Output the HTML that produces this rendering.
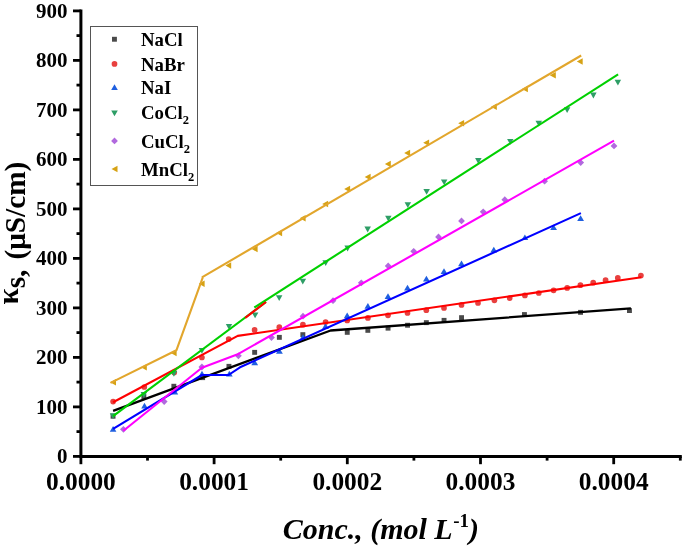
<!DOCTYPE html>
<html><head><meta charset="utf-8"><style>
html,body{margin:0;padding:0;background:#fff;}
body{width:685px;height:548px;overflow:hidden;}
svg{display:block;will-change:transform;}
text{font-family:"Liberation Serif",serif;font-weight:bold;fill:#000;}
.yt{font-size:21px;text-anchor:end;}
.xt{font-size:25.4px;text-anchor:middle;}
.lg{font-size:18.8px;}
.axl{}
</style></head><body>
<svg width="685" height="548" viewBox="0 0 685 548">
<rect width="685" height="548" fill="#fff"/>
<line x1="80.9" y1="9.6" x2="80.9" y2="458.0" stroke="#000" stroke-width="3"/>
<line x1="79.4" y1="456.5" x2="681.8" y2="456.5" stroke="#000" stroke-width="3"/>
<line x1="73" y1="456.4" x2="80.9" y2="456.4" stroke="#000" stroke-width="2.8"/>
<line x1="76.5" y1="431.6" x2="80.9" y2="431.6" stroke="#000" stroke-width="2.8"/>
<text x="67.6" y="463.0" class="yt">0</text>
<line x1="73" y1="406.9" x2="80.9" y2="406.9" stroke="#000" stroke-width="2.8"/>
<line x1="76.5" y1="382.1" x2="80.9" y2="382.1" stroke="#000" stroke-width="2.8"/>
<text x="67.6" y="413.5" class="yt">100</text>
<line x1="73" y1="357.4" x2="80.9" y2="357.4" stroke="#000" stroke-width="2.8"/>
<line x1="76.5" y1="332.6" x2="80.9" y2="332.6" stroke="#000" stroke-width="2.8"/>
<text x="67.6" y="364.0" class="yt">200</text>
<line x1="73" y1="307.9" x2="80.9" y2="307.9" stroke="#000" stroke-width="2.8"/>
<line x1="76.5" y1="283.1" x2="80.9" y2="283.1" stroke="#000" stroke-width="2.8"/>
<text x="67.6" y="314.5" class="yt">300</text>
<line x1="73" y1="258.4" x2="80.9" y2="258.4" stroke="#000" stroke-width="2.8"/>
<line x1="76.5" y1="233.6" x2="80.9" y2="233.6" stroke="#000" stroke-width="2.8"/>
<text x="67.6" y="265.0" class="yt">400</text>
<line x1="73" y1="208.9" x2="80.9" y2="208.9" stroke="#000" stroke-width="2.8"/>
<line x1="76.5" y1="184.1" x2="80.9" y2="184.1" stroke="#000" stroke-width="2.8"/>
<text x="67.6" y="215.5" class="yt">500</text>
<line x1="73" y1="159.4" x2="80.9" y2="159.4" stroke="#000" stroke-width="2.8"/>
<line x1="76.5" y1="134.6" x2="80.9" y2="134.6" stroke="#000" stroke-width="2.8"/>
<text x="67.6" y="166.0" class="yt">600</text>
<line x1="73" y1="109.9" x2="80.9" y2="109.9" stroke="#000" stroke-width="2.8"/>
<line x1="76.5" y1="85.1" x2="80.9" y2="85.1" stroke="#000" stroke-width="2.8"/>
<text x="67.6" y="116.5" class="yt">700</text>
<line x1="73" y1="60.4" x2="80.9" y2="60.4" stroke="#000" stroke-width="2.8"/>
<line x1="76.5" y1="35.6" x2="80.9" y2="35.6" stroke="#000" stroke-width="2.8"/>
<text x="67.6" y="67.0" class="yt">800</text>
<line x1="73" y1="10.9" x2="80.9" y2="10.9" stroke="#000" stroke-width="2.8"/>
<text x="67.6" y="17.5" class="yt">900</text>
<line x1="80.9" y1="456.5" x2="80.9" y2="464.2" stroke="#000" stroke-width="2.8"/>
<line x1="147.5" y1="456.5" x2="147.5" y2="460.6" stroke="#000" stroke-width="2.8"/>
<text x="80.9" y="489.6" class="xt">0.0000</text>
<line x1="214.1" y1="456.5" x2="214.1" y2="464.2" stroke="#000" stroke-width="2.8"/>
<line x1="280.7" y1="456.5" x2="280.7" y2="460.6" stroke="#000" stroke-width="2.8"/>
<text x="214.1" y="489.6" class="xt">0.0001</text>
<line x1="347.3" y1="456.5" x2="347.3" y2="464.2" stroke="#000" stroke-width="2.8"/>
<line x1="413.9" y1="456.5" x2="413.9" y2="460.6" stroke="#000" stroke-width="2.8"/>
<text x="347.3" y="489.6" class="xt">0.0002</text>
<line x1="480.5" y1="456.5" x2="480.5" y2="464.2" stroke="#000" stroke-width="2.8"/>
<line x1="547.1" y1="456.5" x2="547.1" y2="460.6" stroke="#000" stroke-width="2.8"/>
<text x="480.5" y="489.6" class="xt">0.0003</text>
<line x1="613.7" y1="456.5" x2="613.7" y2="464.2" stroke="#000" stroke-width="2.8"/>
<line x1="680.3" y1="456.5" x2="680.3" y2="460.6" stroke="#000" stroke-width="2.8"/>
<text x="613.7" y="489.6" class="xt">0.0004</text>
<rect x="110.6" y="413.8" width="4.9" height="4.9" fill="#4a4a4a"/>
<rect x="141.4" y="394.1" width="4.9" height="4.9" fill="#4a4a4a"/>
<rect x="171.4" y="383.8" width="4.9" height="4.9" fill="#4a4a4a"/>
<rect x="200.2" y="375.2" width="4.9" height="4.9" fill="#4a4a4a"/>
<rect x="226.5" y="363.9" width="4.9" height="4.9" fill="#4a4a4a"/>
<rect x="252.2" y="349.9" width="4.9" height="4.9" fill="#4a4a4a"/>
<rect x="276.9" y="334.9" width="4.9" height="4.9" fill="#4a4a4a"/>
<rect x="300.4" y="332.2" width="4.9" height="4.9" fill="#4a4a4a"/>
<rect x="344.8" y="329.9" width="4.9" height="4.9" fill="#4a4a4a"/>
<rect x="365.4" y="327.9" width="4.9" height="4.9" fill="#4a4a4a"/>
<rect x="385.6" y="325.7" width="4.9" height="4.9" fill="#4a4a4a"/>
<rect x="405.1" y="322.8" width="4.9" height="4.9" fill="#4a4a4a"/>
<rect x="423.9" y="320.2" width="4.9" height="4.9" fill="#4a4a4a"/>
<rect x="441.6" y="317.9" width="4.9" height="4.9" fill="#4a4a4a"/>
<rect x="459.1" y="315.2" width="4.9" height="4.9" fill="#4a4a4a"/>
<rect x="522.0" y="312.1" width="4.9" height="4.9" fill="#4a4a4a"/>
<rect x="578.1" y="309.9" width="4.9" height="4.9" fill="#4a4a4a"/>
<rect x="627.0" y="308.1" width="4.9" height="4.9" fill="#4a4a4a"/>
<circle cx="113.1" cy="401.6" r="2.85" fill="#e8403f"/>
<circle cx="144.3" cy="387.0" r="2.85" fill="#e8403f"/>
<circle cx="174.2" cy="372.4" r="2.85" fill="#e8403f"/>
<circle cx="201.9" cy="357.5" r="2.85" fill="#e8403f"/>
<circle cx="228.7" cy="339.1" r="2.85" fill="#e8403f"/>
<circle cx="254.6" cy="329.9" r="2.85" fill="#e8403f"/>
<circle cx="279.3" cy="327.2" r="2.85" fill="#e8403f"/>
<circle cx="302.9" cy="324.7" r="2.85" fill="#e8403f"/>
<circle cx="325.6" cy="322.1" r="2.85" fill="#e8403f"/>
<circle cx="347.2" cy="320.4" r="2.85" fill="#e8403f"/>
<circle cx="367.9" cy="317.9" r="2.85" fill="#e8403f"/>
<circle cx="388.0" cy="315.3" r="2.85" fill="#e8403f"/>
<circle cx="407.5" cy="313.0" r="2.85" fill="#e8403f"/>
<circle cx="426.3" cy="310.2" r="2.85" fill="#e8403f"/>
<circle cx="444.0" cy="308.0" r="2.85" fill="#e8403f"/>
<circle cx="461.5" cy="304.9" r="2.85" fill="#e8403f"/>
<circle cx="478.0" cy="303.0" r="2.85" fill="#e8403f"/>
<circle cx="494.4" cy="300.3" r="2.85" fill="#e8403f"/>
<circle cx="509.7" cy="298.1" r="2.85" fill="#e8403f"/>
<circle cx="524.9" cy="295.4" r="2.85" fill="#e8403f"/>
<circle cx="538.8" cy="293.0" r="2.85" fill="#e8403f"/>
<circle cx="553.6" cy="290.3" r="2.85" fill="#e8403f"/>
<circle cx="567.2" cy="287.9" r="2.85" fill="#e8403f"/>
<circle cx="580.4" cy="285.2" r="2.85" fill="#e8403f"/>
<circle cx="593.2" cy="282.7" r="2.85" fill="#e8403f"/>
<circle cx="605.6" cy="280.2" r="2.85" fill="#e8403f"/>
<circle cx="617.8" cy="277.9" r="2.85" fill="#e8403f"/>
<circle cx="640.9" cy="275.5" r="2.85" fill="#e8403f"/>
<polygon points="109.8,431.8 116.4,431.8 113.1,426.1" fill="#1f5fe0"/>
<polygon points="141.2,408.5 147.8,408.5 144.5,402.8" fill="#1f5fe0"/>
<polygon points="171.5,394.5 178.2,394.5 174.8,388.8" fill="#1f5fe0"/>
<polygon points="198.7,376.5 205.3,376.5 202.0,370.8" fill="#1f5fe0"/>
<polygon points="226.0,376.5 232.7,376.5 229.3,370.8" fill="#1f5fe0"/>
<polygon points="251.3,365.2 258.1,365.2 254.7,359.4" fill="#1f5fe0"/>
<polygon points="276.0,353.7 282.8,353.7 279.4,347.9" fill="#1f5fe0"/>
<polygon points="299.6,340.0 306.4,340.0 303.0,334.2" fill="#1f5fe0"/>
<polygon points="322.1,328.9 328.9,328.9 325.5,323.1" fill="#1f5fe0"/>
<polygon points="343.8,318.3 350.6,318.3 347.2,312.6" fill="#1f5fe0"/>
<polygon points="364.5,308.7 371.2,308.7 367.9,302.9" fill="#1f5fe0"/>
<polygon points="384.6,299.0 391.4,299.0 388.0,293.2" fill="#1f5fe0"/>
<polygon points="404.1,290.5 410.9,290.5 407.5,284.8" fill="#1f5fe0"/>
<polygon points="423.0,281.5 429.8,281.5 426.4,275.8" fill="#1f5fe0"/>
<polygon points="440.6,274.0 447.4,274.0 444.0,268.2" fill="#1f5fe0"/>
<polygon points="458.1,266.3 464.9,266.3 461.5,260.6" fill="#1f5fe0"/>
<polygon points="490.4,252.5 497.2,252.5 493.8,246.8" fill="#1f5fe0"/>
<polygon points="521.5,240.1 528.2,240.1 524.9,234.4" fill="#1f5fe0"/>
<polygon points="550.2,230.1 557.0,230.1 553.6,224.4" fill="#1f5fe0"/>
<polygon points="577.2,221.0 584.0,221.0 580.6,215.3" fill="#1f5fe0"/>
<polygon points="109.8,413.3 116.3,413.3 113.1,419.1" fill="#2e9e66"/>
<polygon points="140.6,392.1 147.1,392.1 143.8,397.9" fill="#2e9e66"/>
<polygon points="170.7,370.9 177.2,370.9 173.9,376.7" fill="#2e9e66"/>
<polygon points="198.7,348.0 205.2,348.0 201.9,353.8" fill="#2e9e66"/>
<polygon points="225.8,324.0 232.2,324.0 229.0,329.8" fill="#2e9e66"/>
<polygon points="251.8,312.5 258.4,312.5 255.1,318.3" fill="#2e9e66"/>
<polygon points="275.9,295.3 282.4,295.3 279.2,301.1" fill="#2e9e66"/>
<polygon points="299.6,278.7 306.1,278.7 302.8,284.5" fill="#2e9e66"/>
<polygon points="322.4,260.3 328.9,260.3 325.7,266.1" fill="#2e9e66"/>
<polygon points="344.4,245.6 350.9,245.6 347.6,251.4" fill="#2e9e66"/>
<polygon points="364.4,226.6 370.9,226.6 367.7,232.4" fill="#2e9e66"/>
<polygon points="385.1,215.8 391.6,215.8 388.3,221.6" fill="#2e9e66"/>
<polygon points="404.6,202.3 411.1,202.3 407.8,208.1" fill="#2e9e66"/>
<polygon points="423.4,188.9 429.9,188.9 426.6,194.7" fill="#2e9e66"/>
<polygon points="440.9,179.4 447.4,179.4 444.2,185.2" fill="#2e9e66"/>
<polygon points="475.1,158.1 481.6,158.1 478.3,163.9" fill="#2e9e66"/>
<polygon points="507.1,138.9 513.5,138.9 510.3,144.7" fill="#2e9e66"/>
<polygon points="535.5,120.7 542.0,120.7 538.8,126.5" fill="#2e9e66"/>
<polygon points="563.9,107.2 570.4,107.2 567.1,113.0" fill="#2e9e66"/>
<polygon points="590.1,92.6 596.6,92.6 593.4,98.4" fill="#2e9e66"/>
<polygon points="614.6,79.8 621.1,79.8 617.9,85.6" fill="#2e9e66"/>
<polygon points="123.4,425.9 126.8,429.3 123.4,432.7 120.0,429.3" fill="#b169de"/>
<polygon points="164.2,398.2 167.6,401.6 164.2,405.0 160.8,401.6" fill="#b169de"/>
<polygon points="201.9,363.6 205.3,367.0 201.9,370.4 198.5,367.0" fill="#b169de"/>
<polygon points="238.4,352.4 241.8,355.8 238.4,359.2 235.0,355.8" fill="#b169de"/>
<polygon points="271.5,334.2 274.9,337.6 271.5,341.0 268.1,337.6" fill="#b169de"/>
<polygon points="303.0,312.8 306.4,316.2 303.0,319.6 299.6,316.2" fill="#b169de"/>
<polygon points="333.0,297.3 336.4,300.7 333.0,304.1 329.6,300.7" fill="#b169de"/>
<polygon points="361.3,279.4 364.7,282.8 361.3,286.2 357.9,282.8" fill="#b169de"/>
<polygon points="388.2,262.5 391.6,265.9 388.2,269.3 384.8,265.9" fill="#b169de"/>
<polygon points="413.7,247.9 417.1,251.3 413.7,254.7 410.3,251.3" fill="#b169de"/>
<polygon points="438.5,233.5 441.9,236.9 438.5,240.3 435.1,236.9" fill="#b169de"/>
<polygon points="461.5,217.5 464.9,220.9 461.5,224.3 458.1,220.9" fill="#b169de"/>
<polygon points="483.2,208.4 486.6,211.8 483.2,215.2 479.8,211.8" fill="#b169de"/>
<polygon points="504.8,196.3 508.2,199.7 504.8,203.1 501.4,199.7" fill="#b169de"/>
<polygon points="544.6,177.8 548.0,181.2 544.6,184.6 541.2,181.2" fill="#b169de"/>
<polygon points="580.7,159.2 584.1,162.6 580.7,166.0 577.3,162.6" fill="#b169de"/>
<polygon points="614.0,142.5 617.4,145.9 614.0,149.3 610.6,145.9" fill="#b169de"/>
<polygon points="116.0,378.9 116.0,385.4 110.1,382.2" fill="#d6a214"/>
<polygon points="146.8,364.1 146.8,370.6 140.9,367.3" fill="#d6a214"/>
<polygon points="176.6,349.8 176.6,356.2 170.8,353.0" fill="#d6a214"/>
<polygon points="204.6,280.6 204.6,287.1 198.8,283.8" fill="#d6a214"/>
<polygon points="231.2,262.2 231.2,268.8 225.4,265.5" fill="#d6a214"/>
<polygon points="257.6,245.8 257.6,252.3 251.7,249.1" fill="#d6a214"/>
<polygon points="282.1,229.8 282.1,236.2 276.2,233.0" fill="#d6a214"/>
<polygon points="305.6,214.9 305.6,221.4 299.7,218.2" fill="#d6a214"/>
<polygon points="328.1,200.8 328.1,207.2 322.2,204.0" fill="#d6a214"/>
<polygon points="350.1,185.8 350.1,192.2 344.2,189.0" fill="#d6a214"/>
<polygon points="370.6,173.8 370.6,180.2 364.7,177.0" fill="#d6a214"/>
<polygon points="390.8,160.8 390.8,167.3 384.9,164.1" fill="#d6a214"/>
<polygon points="410.1,149.7 410.1,156.2 404.2,152.9" fill="#d6a214"/>
<polygon points="429.1,139.4 429.1,145.9 423.2,142.7" fill="#d6a214"/>
<polygon points="464.1,120.0 464.1,126.5 458.2,123.2" fill="#d6a214"/>
<polygon points="496.8,103.5 496.8,110.0 490.9,106.7" fill="#d6a214"/>
<polygon points="527.9,85.8 527.9,92.3 521.9,89.1" fill="#d6a214"/>
<polygon points="555.8,72.0 555.8,78.5 549.8,75.3" fill="#d6a214"/>
<polygon points="582.7,58.2 582.7,64.8 576.8,61.5" fill="#d6a214"/>
<polyline points="113.1,410.8 330.6,330.5 630.9,308.4" fill="none" stroke="#000000" stroke-width="2.3" stroke-linejoin="round" stroke-linecap="butt"/>
<polyline points="113.1,402.3 237.7,335.9 641.4,277.2" fill="none" stroke="#ff0000" stroke-width="2.1" stroke-linejoin="round" stroke-linecap="butt"/>
<polyline points="113.1,428.8 202.0,375.0 228.5,375.0 240.0,367.3 580.9,213.1" fill="none" stroke="#0000ff" stroke-width="2.1" stroke-linejoin="round" stroke-linecap="butt"/>
<polyline points="113.1,416.2 266.0,302.0" fill="none" stroke="#00d000" stroke-width="2.1" stroke-linejoin="round" stroke-linecap="butt"/>
<polyline points="254.3,307.5 618.1,74.3" fill="none" stroke="#00d000" stroke-width="2.1" stroke-linejoin="round" stroke-linecap="butt"/>
<polyline points="245.2,317.9 266.0,302.0" fill="none" stroke="#ff0000" stroke-width="2.1" stroke-linejoin="round" stroke-linecap="butt"/>
<polyline points="123.4,430.8 201.9,367.7 238.4,353.9 614.0,140.7" fill="none" stroke="#ff00ff" stroke-width="2.1" stroke-linejoin="round" stroke-linecap="butt"/>
<polyline points="110.5,382.9 176.4,350.3 202.8,277.4" fill="none" stroke="#e2a62c" stroke-width="2.1" stroke-linejoin="round" stroke-linecap="butt"/>
<polyline points="201.9,277.4 581.2,55.5" fill="none" stroke="#e2a62c" stroke-width="2.1" stroke-linejoin="round" stroke-linecap="butt"/>
<rect x="90.5" y="26.5" width="107" height="159" fill="#fff" stroke="#555" stroke-width="1"/>
<rect x="112.0" y="36.8" width="4.9" height="4.9" fill="#4a4a4a"/>
<text x="141" y="45.8" class="lg">NaCl</text>
<circle cx="114.5" cy="63.9" r="2.85" fill="#e8403f"/>
<text x="141" y="70.5" class="lg">NaBr</text>
<polygon points="111.2,90.0 117.8,90.0 114.5,84.3" fill="#1f5fe0"/>
<text x="141" y="94.2" class="lg">NaI</text>
<polygon points="111.2,110.4 117.8,110.4 114.5,116.2" fill="#2e9e66"/>
<text x="141" y="119.2" class="lg">CoCl<tspan dy="5" font-size="12.5">2</tspan></text>
<polygon points="114.5,137.5 117.9,140.9 114.5,144.3 111.1,140.9" fill="#b169de"/>
<text x="141" y="147.5" class="lg">CuCl<tspan dy="5" font-size="12.5">2</tspan></text>
<polygon points="117.5,165.8 117.5,172.3 111.5,169.1" fill="#d6a214"/>
<text x="141" y="175.7" class="lg">MnCl<tspan dy="5" font-size="12.5">2</tspan></text>
<text x="282.7" y="538.8" class="axl" style="font-style:italic;font-size:30px">Conc., (mol L<tspan dy="-12.3" dx="0.5" font-size="19" font-style="normal">-1</tspan><tspan dy="12.3">)</tspan></text>
<text transform="translate(24.8,304.6) rotate(-90)" class="axl" style="font-size:29.3px"><tspan dy="-7">κ</tspan><tspan dy="7">s,</tspan><tspan dx="10">(μS/cm)</tspan></text>
</svg>
</body></html>
